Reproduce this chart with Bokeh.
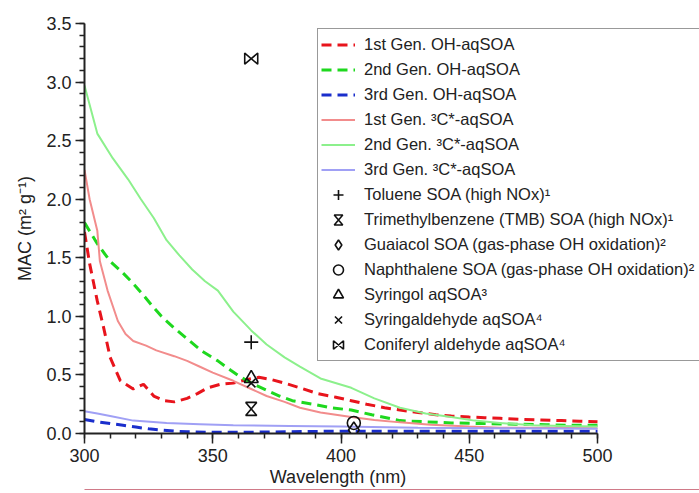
from bokeh.plotting import figure
from bokeh.models import (Legend, LegendItem, FixedTicker, Range1d, CustomJS,
                          CustomJSTickFormatter, LinearAxis)
from bokeh.embed import file_html
from bokeh.resources import INLINE

wl_oh1 = [300, 302, 305, 307.5, 310, 314, 319, 323, 327, 331, 335, 340, 344, 348, 353, 358, 363, 368, 373, 378, 384, 391, 398, 404, 410, 417, 423, 430, 437, 443, 450, 456, 462, 470, 478, 486, 493, 500]
mac_oh1 = [1.72, 1.45, 1.13, 0.90, 0.65, 0.45, 0.38, 0.42, 0.32, 0.28, 0.27, 0.30, 0.34, 0.39, 0.42, 0.43, 0.46, 0.48, 0.46, 0.43, 0.39, 0.34, 0.31, 0.28, 0.25, 0.22, 0.20, 0.18, 0.16, 0.15, 0.14, 0.135, 0.13, 0.12, 0.115, 0.11, 0.105, 0.10]
wl_oh2 = [300, 305, 310, 315, 319, 323, 326, 330, 335, 341, 346, 352, 357, 361, 366, 371, 376, 381, 389, 396, 404, 412, 423, 433, 443, 455, 468, 480, 490, 500]
mac_oh2 = [1.80, 1.62, 1.47, 1.37, 1.28, 1.18, 1.10, 1.00, 0.90, 0.79, 0.70, 0.62, 0.54, 0.48, 0.42, 0.37, 0.32, 0.28, 0.25, 0.22, 0.20, 0.16, 0.11, 0.10, 0.09, 0.085, 0.08, 0.075, 0.07, 0.07]
wl_oh3 = [300, 305, 310, 315, 320, 325, 330, 335, 340, 350, 360, 380, 400, 420, 450, 480, 500]
mac_oh3 = [0.12, 0.10, 0.085, 0.07, 0.055, 0.04, 0.03, 0.02, 0.015, 0.01, 0.01, 0.015, 0.02, 0.02, 0.02, 0.02, 0.02]
wl_c1 = [300, 302, 305, 306, 309, 313, 316, 319, 324, 328, 335, 340, 345, 350, 358, 365, 371, 378, 384, 392, 404, 413, 423, 435, 450, 462, 480, 500]
mac_c1 = [2.25, 2.0, 1.73, 1.47, 1.22, 0.96, 0.85, 0.79, 0.75, 0.71, 0.66, 0.62, 0.57, 0.52, 0.45, 0.38, 0.32, 0.27, 0.22, 0.18, 0.14, 0.115, 0.095, 0.075, 0.06, 0.05, 0.05, 0.045]
wl_c2 = [300, 305, 311, 317, 322, 327, 332, 337, 342, 347, 352, 358, 365, 371, 378, 384, 392, 404, 413, 423, 433, 443, 452, 462, 475, 487, 500]
mac_c2 = [2.97, 2.56, 2.35, 2.17, 2.0, 1.84, 1.65, 1.52, 1.40, 1.30, 1.22, 1.04, 0.88, 0.76, 0.65, 0.57, 0.47, 0.39, 0.30, 0.22, 0.17, 0.14, 0.11, 0.09, 0.07, 0.065, 0.06]
wl_c3 = [300, 305, 310, 319, 332, 345, 358, 380, 400, 430, 460, 500]
mac_c3 = [0.19, 0.17, 0.15, 0.11, 0.09, 0.08, 0.07, 0.065, 0.06, 0.05, 0.045, 0.04]

line_labels = ["1st Gen. OH-aqSOA", "2nd Gen. OH-aqSOA", "3rd Gen. OH-aqSOA",
               "1st Gen. ³C*-aqSOA", "2nd Gen. ³C*-aqSOA", "3rd Gen. ³C*-aqSOA"]
pt_labels = ["Toluene SOA (high NOx)¹", "Trimethylbenzene (TMB) SOA (high NOx)¹",
             "Guaiacol SOA (gas-phase OH oxidation)²", "Naphthalene SOA (gas-phase OH oxidation)²",
             "Syringol aqSOA³", "Syringaldehyde aqSOA⁴", "Coniferyl aldehyde aqSOA⁴"]
pt_wl = [365, 365, 405, 405, 365, 365, 365]
pt_mac = [0.78, 0.21, 0.03, 0.09, 0.47, 0.43, 3.20]

x_ticks = [300, 350, 400, 450, 500]
y_ticks = [0.0, 0.5, 1.0, 1.5, 2.0, 2.5, 3.0, 3.5]

FONT = "Liberation Sans"
INK = "#222222"
PX_PER_NM = 513 / 200.0

# frame spans past 500 nm so the legend box can run to the picture edge;
# the axis itself is bounded to 300-500 nm
p = figure(output_backend="svg", toolbar_location=None,
           frame_width=615, frame_height=410,
           min_border_left=84, min_border_right=0, min_border_top=23, min_border_bottom=60,
           x_range=Range1d(300, 300 + 615 / PX_PER_NM), y_range=Range1d(0, 3.5))
p.outline_line_color = None
p.grid.grid_line_color = None

for ax in (p.xaxis[0], p.yaxis[0]):
    ax.axis_line_width = 2
    ax.axis_line_color = INK
    ax.major_tick_line_color = INK
    ax.minor_tick_line_color = INK
    ax.major_tick_line_width = 1.5
    ax.minor_tick_line_width = 1.5
    ax.major_tick_in = 0
    ax.minor_tick_in = 0
    ax.major_label_text_font = FONT
    ax.major_label_text_font_size = "18px"
    ax.major_label_text_color = INK
    ax.axis_label_text_font = FONT
    ax.axis_label_text_font_size = "18px"
    ax.axis_label_text_font_style = "normal"
    ax.axis_label_text_color = INK

p.xaxis.bounds = (300, 500)
p.xaxis.ticker = FixedTicker(ticks=x_ticks, minor_ticks=list(range(300, 501, 10)))
p.yaxis.ticker = FixedTicker(ticks=y_ticks, minor_ticks=[i / 10 for i in range(36)])
p.xaxis.major_tick_out = 10
p.xaxis.minor_tick_out = 5
p.yaxis.major_tick_out = 9
p.yaxis.minor_tick_out = 5
p.yaxis.formatter = CustomJSTickFormatter(code="return tick.toFixed(1)")
p.xaxis.major_label_standoff = 5
p.yaxis.major_label_standoff = 4
# trailing em spaces keep the title centred under the 300-500 nm span
p.xaxis.axis_label = "Wavelength (nm)" + "\u2003" * 6
p.yaxis.axis_label = "MAC (m² g⁻¹)"
p.xaxis.axis_label_standoff = 2
p.yaxis.axis_label_standoff = 8

# thin pinkish page rule under the axis title
rule = LinearAxis(bounds=(300 - 79 / PX_PER_NM, 300 + 615 / PX_PER_NM),
                  ticker=FixedTicker(ticks=[]), axis_line_color="#d07a88",
                  axis_line_width=1.2, major_tick_out=0, major_tick_in=0,
                  minor_tick_out=0, minor_tick_in=0,
                  major_label_text_font_size="0px")
p.add_layout(rule, "below")

DASH = "10 6"
r1 = p.line(wl_oh1, mac_oh1, line_color="#e8141c", line_width=3, line_dash=DASH)
r2 = p.line(wl_oh2, mac_oh2, line_color="#1ed81e", line_width=3, line_dash=DASH)
r3 = p.line(wl_oh3, mac_oh3, line_color="#1a2ecc", line_width=3, line_dash=DASH)
r4 = p.line(wl_c1, mac_c1, line_color="#f28c8c", line_width=2)
r5 = p.line(wl_c2, mac_c2, line_color="#8cf08c", line_width=2)
r6 = p.line(wl_c3, mac_c3, line_color="#a0a0f5", line_width=2)

hourglass = CustomJS(code="""
export default (args, obj, {ctx, i, r, visuals}) => {
  const w = r * 0.85
  ctx.beginPath()
  ctx.moveTo(-w, -r)
  ctx.lineTo(w, -r)
  ctx.lineTo(-w, r)
  ctx.lineTo(w, r)
  ctx.closePath()
  visuals.line.apply(ctx, i)
}
""")
bowtie = CustomJS(code="""
export default (args, obj, {ctx, i, r, visuals}) => {
  const w = r * 0.85
  ctx.beginPath()
  ctx.moveTo(-r, -w)
  ctx.lineTo(-r, w)
  ctx.lineTo(r, -w)
  ctx.lineTo(r, w)
  ctx.closePath()
  visuals.line.apply(ctx, i)
}
""")

mk = dict(line_color="#111111", fill_color=None, line_width=1.6)
m0 = p.scatter([pt_wl[0]], [pt_mac[0]], marker="cross", size=14, **mk)
m1 = p.scatter([pt_wl[1]], [pt_mac[1]], marker="@hourglass", defs={"@hourglass": hourglass}, size=13, **mk)
m2 = p.scatter([pt_wl[2]], [pt_mac[2]], marker="diamond", size=16, **mk)
m3 = p.scatter([pt_wl[3]], [pt_mac[3]], marker="circle", size=13, **mk)
m4 = p.scatter([pt_wl[4]], [pt_mac[4]], marker="triangle", size=14, **mk)
m5 = p.scatter([pt_wl[5]], [pt_mac[5]], marker="x", size=12, **mk)
m6 = p.scatter([pt_wl[6]], [pt_mac[6]], marker="@bowtie", defs={"@bowtie": bowtie}, size=13, **mk)

rends = [r1, r2, r3, r4, r5, r6, m0, m1, m2, m3, m4, m5, m6]
labels = line_labels + pt_labels
items = [LegendItem(label=lab, renderers=[rr]) for lab, rr in zip(labels, rends)]
legend = Legend(items=items, location=(233, 72), margin=0, padding=3, spacing=0,
                label_height=25, glyph_height=25, glyph_width=34, label_standoff=9,
                label_width=340,
                label_text_font=FONT, label_text_font_size="16.5px", label_text_color=INK,
                border_line_color="#333333", border_line_width=1.5,
                background_fill_color="white", background_fill_alpha=1.0)
p.add_layout(legend, "center")

open("out.html", "w").write(file_html(p, INLINE))
